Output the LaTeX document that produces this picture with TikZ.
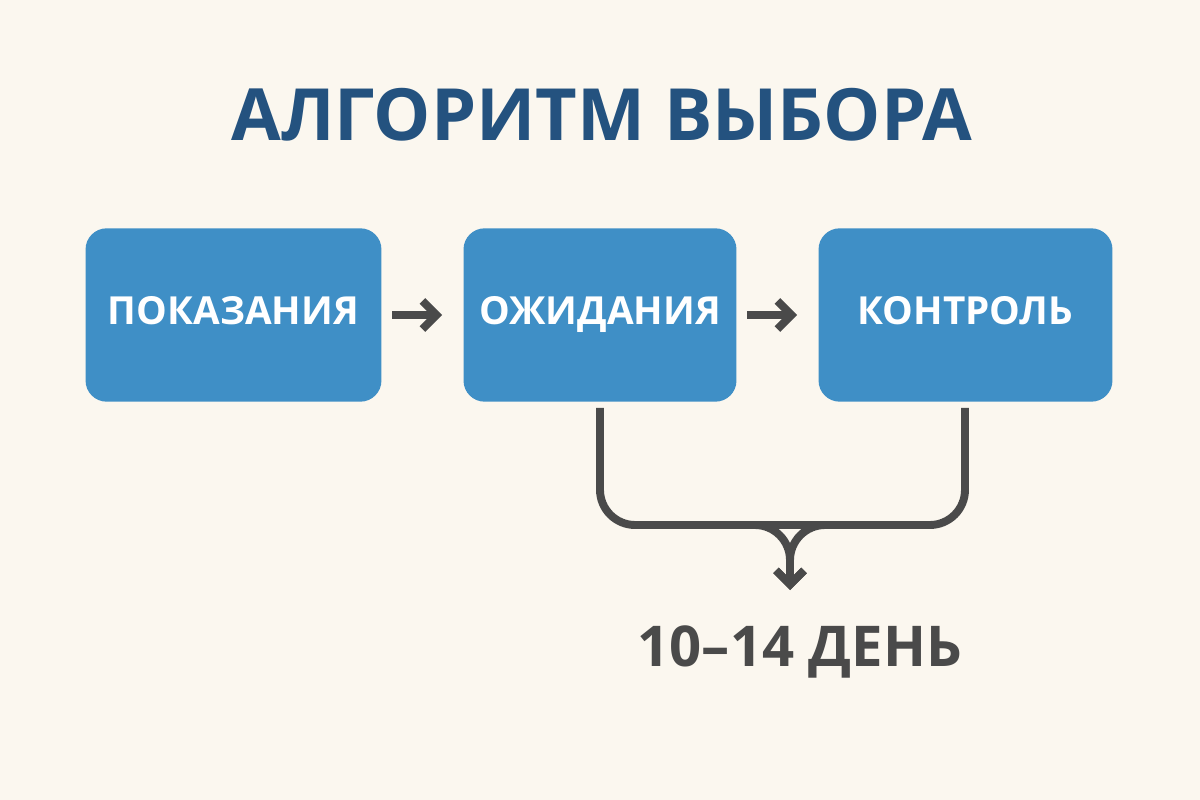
\documentclass[tikz,border=0pt]{standalone}
\usepackage{fontspec}
\setmainfont{Open Sans}
\usetikzlibrary{arrows.meta}
\definecolor{bg}{HTML}{FBF7EF}
\definecolor{boxc}{HTML}{3F8FC6}
\definecolor{titlec}{HTML}{24527F}
\definecolor{gr}{HTML}{4A4A4A}
\begin{document}
\begin{tikzpicture}[x=0.02cm,y=-0.02cm,
  box/.style={fill=boxc,rounded corners=12pt,text=white,font=\bfseries\fontsize{22}{26}\selectfont,inner sep=0pt,text height=16pt,text depth=5pt},
  conn/.style={draw=gr,line width=4.5pt,-{Straight Barb[length=8pt,width=16pt]}},
  line/.style={draw=gr,line width=4.5pt,rounded corners=20pt}]
\fill[bg] (0,0) rectangle (1200,800);
\useasboundingbox (0,0) rectangle (1200,800);
\node[text=titlec,font=\bfseries\fontsize{41}{48}\selectfont] (t) at (602,115) {АЛГОРИТМ ВЫБОРА};
\node[box,minimum width=297*0.567pt,minimum height=174*0.567pt] (a) at (233.5,315) {ПОКАЗАНИЯ};
\node[box,minimum width=274*0.567pt,minimum height=174*0.567pt] (b) at (600,315) {ОЖИДАНИЯ};
\node[box,minimum width=295*0.567pt,minimum height=174*0.567pt] (c) at (965.5,315) {КОНТРОЛЬ};
\draw[conn,shorten <=6pt,shorten >=12pt] (a) -- (b);
\draw[conn,shorten <=6pt,shorten >=12pt] (b) -- (c);
\coordinate (m) at (790,525);
\node[text=gr,font=\bfseries\fontsize{32}{38}\selectfont] (d) at (800,652) {10–14 ДЕНЬ};
\draw[line] (600,408) -- (600,525) -- (790,525);
\draw[line] (965,408) -- (965,525) -- (790,525);
\draw[conn,rounded corners=20pt] (750,525) -- (790,525) -- (790,590);
\draw[conn,rounded corners=20pt] (830,525) -- (790,525) -- (790,590);
\end{tikzpicture}
\end{document}
